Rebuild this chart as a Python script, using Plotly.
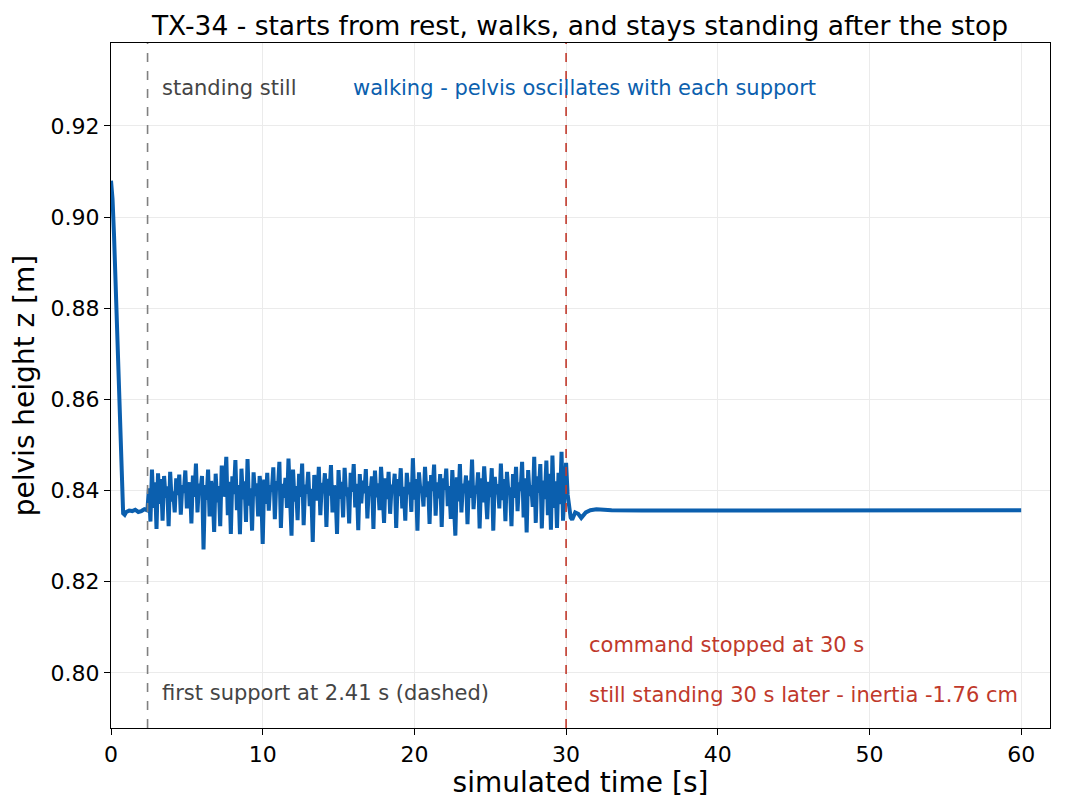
import numpy as np
import plotly.graph_objects as go

# ===============================
# 0. DATA
# ===============================
FIRST_SUPPORT_T = 2.41
STOP_T = 30.0
INERTIA_CM = -1.76

# falling onto the feet + standing still before the first support
t_rest = [0.0, 0.1, 0.2, 0.3, 0.4, 0.5, 0.6, 0.7, 0.8, 0.9, 1.0, 1.2, 1.4,
          1.6, 1.8, 2.0, 2.2, 2.35, 2.41]
z_rest = [0.9080, 0.9040, 0.8960, 0.8860, 0.8770, 0.8660, 0.8540, 0.8420,
          0.8350, 0.8347, 0.8353, 0.8356, 0.8355, 0.8358, 0.8353, 0.8355,
          0.8359, 0.8357, 0.8362]

# walking, one sample every 0.1 s from 2.5 s to 30.0 s
WALK_T0 = 2.5
WALK_DT = 0.1
z_walk = [
    0.8405, 0.8332, 0.8446, 0.8362, 0.8418, 0.8316, 0.8438, 0.8371, 0.8425, 0.8334,
    0.8432, 0.8384, 0.8409, 0.8322, 0.8441, 0.8376, 0.8398, 0.8352, 0.8427, 0.8390,
    0.8435, 0.8347, 0.8412, 0.8395, 0.8444, 0.8361, 0.8403, 0.8418, 0.8328, 0.8433,
    0.8386, 0.8459, 0.8352, 0.8415, 0.8399, 0.8432, 0.8271, 0.8412, 0.8380, 0.8446,
    0.8343, 0.8421, 0.8396, 0.8309, 0.8437, 0.8374, 0.8410, 0.8322, 0.8455, 0.8387,
    0.8403, 0.8474, 0.8346, 0.8419, 0.8305, 0.8431, 0.8392, 0.8467, 0.8357, 0.8412,
    0.8304, 0.8448, 0.8381, 0.8420, 0.8331, 0.8469, 0.8367, 0.8405, 0.8312, 0.8440,
    0.8388, 0.8416, 0.8343, 0.8432, 0.8397, 0.8283, 0.8424, 0.8371, 0.8439, 0.8356,
    0.8412, 0.8398, 0.8451, 0.8337, 0.8421, 0.8402, 0.8463, 0.8318, 0.8415, 0.8384,
    0.8428, 0.8362, 0.8470, 0.8393, 0.8301, 0.8446, 0.8376, 0.8410, 0.8335, 0.8437,
    0.8386, 0.8459, 0.8324, 0.8413, 0.8393, 0.8441, 0.8366, 0.8404, 0.8287, 0.8434,
    0.8401, 0.8378, 0.8452, 0.8346, 0.8417, 0.8394, 0.8438, 0.8320, 0.8426, 0.8389,
    0.8456, 0.8352, 0.8411, 0.8396, 0.8305, 0.8445, 0.8382, 0.8419, 0.8341, 0.8450,
    0.8388, 0.8407, 0.8328, 0.8439, 0.8397, 0.8458, 0.8363, 0.8415, 0.8313, 0.8436,
    0.8372, 0.8422, 0.8394, 0.8447, 0.8339, 0.8410, 0.8392, 0.8431, 0.8316, 0.8444,
    0.8385, 0.8416, 0.8357, 0.8452, 0.8398, 0.8329, 0.8427, 0.8381, 0.8441, 0.8349,
    0.8413, 0.8395, 0.8437, 0.8318, 0.8425, 0.8388, 0.8449, 0.8361, 0.8408, 0.8334,
    0.8439, 0.8392, 0.8418, 0.8353, 0.8471, 0.8380, 0.8425, 0.8312, 0.8440, 0.8397,
    0.8409, 0.8365, 0.8452, 0.8386, 0.8420, 0.8327, 0.8434, 0.8399, 0.8457, 0.8345,
    0.8418, 0.8383, 0.8436, 0.8320, 0.8427, 0.8402, 0.8448, 0.8366, 0.8410, 0.8338,
    0.8445, 0.8390, 0.8301, 0.8429, 0.8376, 0.8458, 0.8352, 0.8415, 0.8395, 0.8433,
    0.8326, 0.8422, 0.8384, 0.8468, 0.8359, 0.8411, 0.8393, 0.8440, 0.8317, 0.8427,
    0.8374, 0.8453, 0.8398, 0.8337, 0.8419, 0.8386, 0.8449, 0.8312, 0.8430, 0.8392,
    0.8414, 0.8361, 0.8459, 0.8379, 0.8425, 0.8333, 0.8441, 0.8395, 0.8407, 0.8322,
    0.8436, 0.8384, 0.8452, 0.8355, 0.8418, 0.8399, 0.8463, 0.8341, 0.8427, 0.8308,
    0.8445, 0.8388, 0.8412, 0.8364, 0.8474, 0.8329, 0.8431, 0.8395, 0.8458, 0.8317,
    0.8422, 0.8381, 0.8466, 0.8346, 0.8437, 0.8314, 0.8477, 0.8362, 0.8420, 0.8318,
    0.8439, 0.8370, 0.8485, 0.8334, 0.8398, 0.8461,
]

# after the stop command: settles and stays standing
t_stop = [30.1, 30.2, 30.3, 30.4, 30.6, 30.8, 31.0, 31.3, 31.6, 32.0, 33.0,
          35.0, 40.0, 50.0, 60.0]
z_stop = [0.8392, 0.8372, 0.8341, 0.8336, 0.8352, 0.8349, 0.8340, 0.8352,
          0.8357, 0.8359, 0.8357, 0.8356, 0.8356, 0.8357, 0.8357]

X_TICKS = [0, 10, 20, 30, 40, 50, 60]
Y_TICKS = [0.80, 0.82, 0.84, 0.86, 0.88, 0.90, 0.92]

BLUE = "#0b5fae"
RED = "#c0392b"
GREY_TXT = "#444444"

# ===============================
# 1. BUILD SERIES
# ===============================
t_walk = np.round(WALK_T0 + WALK_DT * np.arange(len(z_walk)), 2)
t_all = np.concatenate([t_rest, t_walk, t_stop])
z_all = np.concatenate([z_rest, z_walk, z_stop])

# ===============================
# 2. PLOT
# ===============================
fig = go.Figure()

fig.add_trace(go.Scatter(
    x=t_all,
    y=z_all,
    mode="lines",
    line=dict(color=BLUE, width=4),
    name="pelvis z",
    showlegend=False
))

fig.add_vline(x=FIRST_SUPPORT_T, line=dict(color="#808080", width=1.6, dash="dash"))
fig.add_vline(x=STOP_T, line=dict(color=RED, width=1.6, dash="dash"))

txt = dict(size=21, family="DejaVu Sans")
fig.add_annotation(x=3.25, y=0.9283, text="standing still", showarrow=False,
                   xanchor="left", yanchor="middle", font=dict(color=GREY_TXT, **txt))
fig.add_annotation(x=15.85, y=0.9283, text="walking - pelvis oscillates with each support",
                   showarrow=False, xanchor="left", yanchor="middle",
                   font=dict(color=BLUE, **txt))
fig.add_annotation(x=3.25, y=0.7956, text=f"first support at {FIRST_SUPPORT_T:.2f} s (dashed)",
                   showarrow=False, xanchor="left", yanchor="middle",
                   font=dict(color=GREY_TXT, **txt))
fig.add_annotation(x=31.35, y=0.8061, text=f"command stopped at {STOP_T:.0f} s",
                   showarrow=False, xanchor="left", yanchor="middle",
                   font=dict(color=RED, **txt))
fig.add_annotation(x=31.35, y=0.7952,
                   text=f"still standing 30 s later - inertia {INERTIA_CM:.2f} cm",
                   showarrow=False, xanchor="left", yanchor="middle",
                   font=dict(color=RED, **txt))

axis_common = dict(
    showline=True, linecolor="black", linewidth=1.2, mirror=True,
    ticks="outside", ticklen=6, tickcolor="black", tickwidth=1.2,
    showgrid=True, gridcolor="#ebebeb", gridwidth=1,
    zeroline=False, automargin=False,
    tickfont=dict(size=22, color="black", family="DejaVu Sans"),
)

# the page body adds an 8 px offset, so margins are shifted by that much
fig.update_layout(
    width=1080, height=810,
    paper_bgcolor="white", plot_bgcolor="white",
    margin=dict(l=103, r=38, t=35, b=90),
    font=dict(family="DejaVu Sans", color="black"),
    title=dict(
        text="TX-34 - starts from rest, walks, and stays standing after the stop",
        x=0.5296, xanchor="center", y=0.978, yanchor="middle",
        font=dict(size=26.5, color="black")
    ),
    xaxis=dict(
        range=[0, 61.9], tickvals=X_TICKS,
        title=dict(text="simulated time [s]", font=dict(size=28), standoff=4),
        **axis_common
    ),
    yaxis=dict(
        range=[0.7879, 0.9382], tickvals=Y_TICKS, tickformat=".2f",
        title=dict(text="pelvis height z [m]", font=dict(size=28), standoff=8),
        **axis_common
    ),
)

fig.write_html("out.html")
